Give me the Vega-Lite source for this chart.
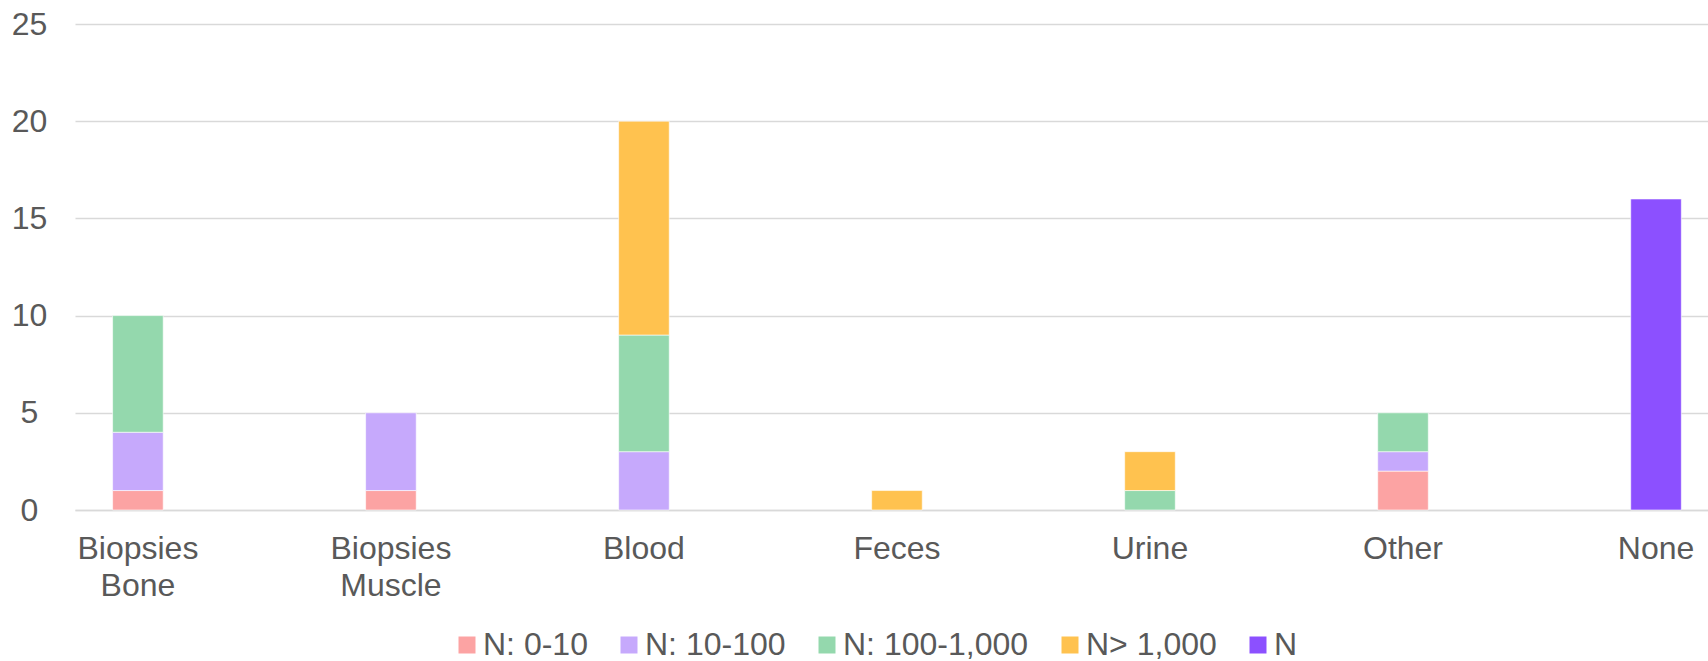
{
  "$schema": "https://vega.github.io/schema/vega-lite/v6.json",
  "autosize": {"type": "none"},
  "padding": {"left": 75, "top": 24, "right": 0, "bottom": 151},
  "width": 1633,
  "height": 486,
  "background": "white",
  "config": {
    "view": {"stroke": null},
    "font": "Liberation Sans",
    "axis": {"labelFont": "Liberation Sans", "labelColor": "#595959", "labelFontSize": 32},
    "legend": {"labelFont": "Liberation Sans", "labelColor": "#595959", "labelFontSize": 32}
  },
  "data": {
    "values": [
      {"category": "Biopsies Bone", "group": "N: 0-10", "count": 1},
      {"category": "Biopsies Bone", "group": "N: 10-100", "count": 3},
      {"category": "Biopsies Bone", "group": "N: 100-1,000", "count": 6},
      {"category": "Biopsies Muscle", "group": "N: 0-10", "count": 1},
      {"category": "Biopsies Muscle", "group": "N: 10-100", "count": 4},
      {"category": "Blood", "group": "N: 10-100", "count": 3},
      {"category": "Blood", "group": "N: 100-1,000", "count": 6},
      {"category": "Blood", "group": "N> 1,000", "count": 11},
      {"category": "Feces", "group": "N> 1,000", "count": 1},
      {"category": "Urine", "group": "N: 100-1,000", "count": 1},
      {"category": "Urine", "group": "N> 1,000", "count": 2},
      {"category": "Other", "group": "N: 0-10", "count": 2},
      {"category": "Other", "group": "N: 10-100", "count": 1},
      {"category": "Other", "group": "N: 100-1,000", "count": 2},
      {"category": "None", "group": "N", "count": 16}
    ]
  },
  "mark": {"type": "bar", "stroke": "white", "strokeWidth": 1, "strokeOpacity": 0.6},
  "encoding": {
    "x": {
      "field": "category",
      "type": "nominal",
      "sort": ["Biopsies Bone", "Biopsies Muscle", "Blood", "Feces", "Urine", "Other", "None"],
      "scale": {"paddingInner": 0.8, "paddingOuter": 0.127, "align": 0.585},
      "axis": {
        "title": null,
        "labelAngle": 0,
        "labelExpr": "split(datum.label, ' ')",
        "labelLineHeight": 37,
        "labelPadding": 23,
        "labelBaseline": "top",
        "ticks": false,
        "domainColor": "#D9D9D9",
        "domainWidth": 1.5,
        "grid": false
      }
    },
    "y": {
      "field": "count",
      "type": "quantitative",
      "stack": "zero",
      "scale": {"domain": [0, 25], "nice": false},
      "axis": {
        "title": null,
        "values": [0, 5, 10, 15, 20, 25],
        "domain": false,
        "ticks": false,
        "labelAlign": "center",
        "labelPadding": 46,
        "gridColor": "#D9D9D9",
        "gridWidth": 1.5
      }
    },
    "color": {
      "field": "group",
      "type": "nominal",
      "sort": ["N: 0-10", "N: 10-100", "N: 100-1,000", "N> 1,000", "N"],
      "scale": {
        "domain": ["N: 0-10", "N: 10-100", "N: 100-1,000", "N> 1,000", "N"],
        "range": ["#FCA3A3", "#C6A9FC", "#94D8AD", "#FFC24F", "#8C50FF"]
      },
      "legend": {
        "title": null,
        "orient": "none",
        "direction": "horizontal",
        "legendX": 376,
        "legendY": 605,
        "symbolType": "square",
        "symbolSize": 289,
        "symbolStrokeWidth": 0,
        "labelOffset": 0,
        "labelLimit": 400,
        "columnPadding": 25,
        "columns": 5
      }
    },
    "order": {"field": "group", "sort": "ascending"}
  }
}
